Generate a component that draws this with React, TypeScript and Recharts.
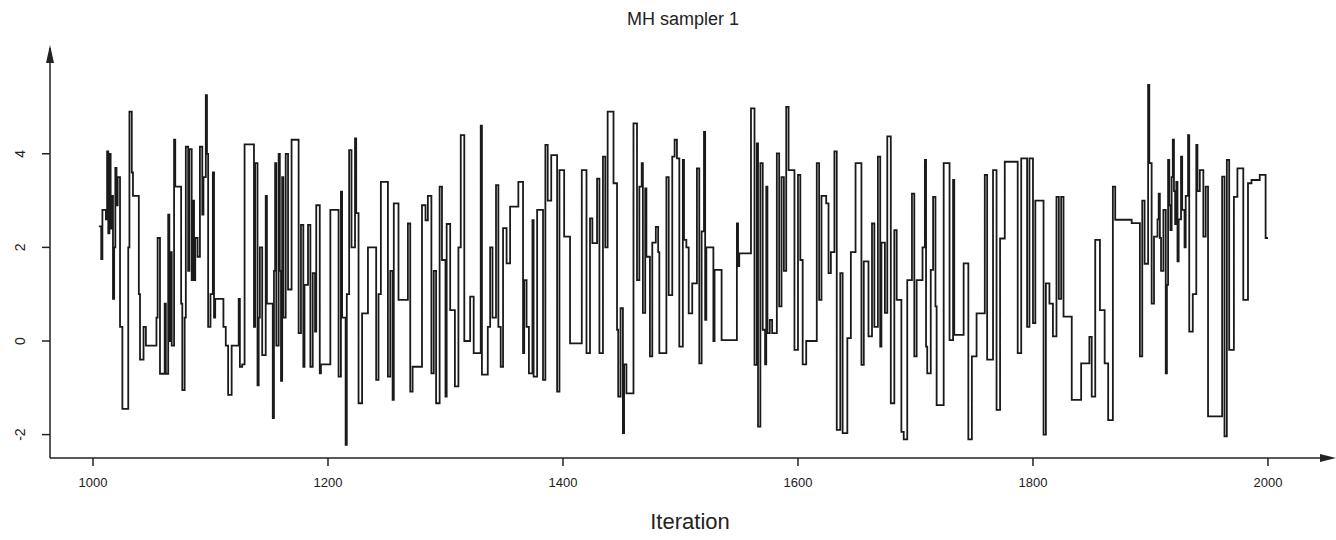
import React from "react";
import { LineChart, Line, XAxis, YAxis, Label } from "recharts";

// change points of the chain (iteration where the sampler moved, new value)
const iterations = [
  1005, 1007, 1008, 1011, 1012, 1013, 1014, 1015, 1016, 1017, 1018, 1019, 1020, 1021, 1023, 1025, 1030, 1031, 1033, 1034,
  1039, 1040, 1043, 1045, 1054, 1055, 1057, 1061, 1062, 1064, 1065, 1066, 1067, 1069, 1070, 1075, 1076, 1078, 1079, 1081,
  1082, 1084, 1085, 1086, 1087, 1089, 1091, 1093, 1094, 1096, 1097, 1098, 1100, 1102, 1103, 1104, 1111, 1113, 1115, 1118,
  1124, 1125, 1127, 1129, 1137, 1138, 1140, 1141, 1142, 1144, 1147, 1148, 1153, 1154, 1155, 1156, 1158, 1159,
  1160, 1161, 1162, 1164, 1166, 1169, 1175, 1177, 1179, 1180, 1183, 1185, 1187, 1189, 1190, 1193, 1194, 1202, 1209, 1211,
  1212, 1215, 1216, 1218, 1220, 1223, 1224, 1226, 1229, 1234, 1241, 1243, 1245, 1251, 1253, 1255, 1256, 1260, 1268, 1270,
  1272, 1280, 1283, 1285, 1288, 1290, 1292, 1295, 1297, 1300, 1301, 1304, 1308, 1311, 1313, 1316, 1321, 1324,
  1330, 1331, 1336, 1338, 1340, 1343, 1345, 1347, 1349, 1352, 1355, 1362, 1366, 1367, 1369, 1371, 1374, 1375, 1378, 1383,
  1385, 1387, 1390, 1395, 1397, 1401, 1406, 1416, 1420, 1423, 1425, 1429, 1431, 1434, 1436, 1438, 1443, 1446, 1447, 1449,
  1451, 1452, 1454, 1460, 1463, 1465, 1467, 1468, 1470, 1471, 1474, 1476, 1479, 1481, 1482, 1488, 1490,
  1493, 1495, 1497, 1499, 1502, 1503, 1505, 1507, 1510, 1514, 1516, 1518, 1520, 1521, 1522, 1528, 1529, 1535, 1548, 1549,
  1550, 1560, 1563, 1565, 1566, 1568, 1570, 1572, 1573, 1574, 1576, 1578, 1582, 1584, 1586, 1588, 1590, 1592, 1597, 1600,
  1602, 1604, 1607, 1616, 1618, 1620, 1624, 1626, 1628, 1631, 1633, 1636, 1638, 1642, 1645, 1649, 1654, 1656,
  1660, 1663, 1665, 1668, 1670, 1671, 1674, 1676, 1679, 1682, 1684, 1688, 1690, 1693, 1697, 1699, 1701, 1706, 1708, 1709,
  1710, 1713, 1715, 1717, 1718, 1724, 1729, 1732, 1733, 1741, 1745, 1748, 1752, 1759, 1761, 1766, 1769, 1772, 1776, 1787,
  1790, 1795, 1797, 1800, 1802, 1809, 1811, 1814, 1817, 1820, 1822,
  1824, 1826, 1833, 1841, 1848, 1850, 1853, 1857, 1861, 1864, 1868, 1870, 1884, 1891, 1893, 1895, 1898, 1899, 1901, 1903,
  1906, 1907, 1908, 1909, 1911, 1913, 1914, 1915, 1916, 1917, 1918, 1919, 1920, 1921, 1922, 1923, 1924, 1926, 1927, 1929,
  1930, 1932, 1933, 1936, 1939, 1940, 1942, 1945, 1947, 1949, 1961, 1963, 1965,
  1967, 1971, 1974, 1979, 1983, 1986, 1993, 1998, 2000,
];

const samples = [
  2.45, 1.75, 2.8, 2.6, 4.05, 2.3, 4.0, 2.4, 3.1, 0.9, 2.0, 3.7, 2.9, 3.5, 0.3, -1.45, 2.0, 4.9, 3.6, 3.1,
  1.0, -0.4, 0.3, -0.1, 0.5, 2.2, -0.7, 0.8, -0.7, 2.7, 0.0, 1.9, -0.1, 4.3, 3.3, 0.8, -1.05, 0.5, 4.15, 1.5,
  4.1, 1.3, 3.0, 1.3, 2.2, 1.8, 4.15, 2.7, 3.5, 5.25, 4.0, 0.3, 1.0, 3.6, 0.5, 0.9, 0.3, -0.1, -1.15, -0.1,
  0.9, -0.55, -0.5, 4.2, 0.3, 3.8, -0.95, 0.5, 2.0, -0.3, 3.1, 0.8, -1.65, 1.5, 3.8, -0.1, 4.0, 1.5,
  -0.85, 3.5, 0.5, 4.0, 1.1, 4.3, 0.17, 2.48, -0.55, 1.2, 2.48, -0.55, 1.45, 0.2, 2.9, -0.69, -0.5, 2.8, -0.76, 3.19,
  0.5, -2.22, 1.0, 4.08, 2.0, 4.33, 2.73, -1.33, 0.59, 2.0, -0.83, 1.0, 3.4, -0.76, 1.5, -1.26, 2.94, 0.88, 2.51, -1.08,
  -0.55, 2.9, 2.58, 3.1, -0.69, 1.5, -1.33, 3.3, 1.73, -1.19, 2.5, 0.66, -0.97, 2.0, 4.4, 0.0, 0.95, -0.26,
  4.6, -0.72, 0.3, 2.0, 0.5, 3.33, 0.3, -0.55, 2.41, 1.66, 2.87, 3.4, -0.26, 1.3, 0.3, -0.69, 2.58, -0.76, 2.8, -0.83,
  4.19, 3.0, 3.97, -1.08, 3.65, 2.23, -0.05, 3.65, -0.26, 2.62, 2.09, 3.47, -0.26, 3.94, 2.0, 4.9, 3.37, 0.24, -1.19, 0.7,
  -1.97, -0.5, -1.12, 4.65, 1.3, 3.3, 3.8, 0.6, 3.26, 1.8, -0.33, 2.1, 2.44, 1.9, -0.26, 3.5, 0.98,
  3.94, 4.3, 3.9, -0.12, 3.87, 2.16, 2.0, 0.59, 1.23, 3.69, -0.48, 2.34, 4.47, 0.45, 2.0, 0.0, 1.52, 0.02, 2.51, 1.6,
  1.87, 4.97, -0.51, 4.22, -1.83, 3.8, 0.24, -0.5, 3.3, 0.17, 0.45, 0.17, 4.01, 0.74, 3.5, 1.5, 5.0, 3.65, -0.19, 3.55,
  1.73, -0.5, 0.0, 3.8, 0.88, 3.1, 2.94, 1.45, 1.9, 4.05, -1.9, 1.45, -1.97, 0.06, 1.9, 3.8, -0.51, 1.7,
  0.1, 2.51, 0.3, 3.94, -0.12, 2.1, 0.6, 4.37, -1.33, 2.37, 0.88, -1.94, -2.1, 1.3, 3.15, -0.33, 1.3, 2.0, 3.87, -0.12,
  -0.69, 1.52, 3.08, 0.74, -1.37, 3.8, 0.02, 3.44, 0.13, 1.66, -2.1, -0.33, 0.59, 3.55, -0.4, 3.65, -1.47, 2.19, 3.83, -0.26,
  3.9, 0.3, 3.9, 0.38, 3.0, -2.0, 1.23, 0.8, 0.1, 3.08, 0.9,
  3.08, 0.52, -1.26, -0.48, 0.09, -1.19, 2.16, 0.66, -0.48, -1.69, 3.3, 2.59, 2.52, -0.33, 3.0, 1.65, 5.47, 3.8, 0.8, 2.23,
  2.6, 3.15, 2.2, 1.5, 2.8, -0.69, 1.2, 3.87, 2.9, 2.37, 3.5, 4.3, 3.2, 2.5, 3.4, 1.7, 2.6, 3.94, 2.8, 2.0,
  3.1, 4.4, 0.2, 1.0, 4.19, 3.2, 3.65, 2.23, 3.3, -1.61, 3.51, -2.04, 3.87,
  -0.19, 3.08, 3.69, 0.88, 3.37, 3.44, 3.55, 2.2, 2.2,
];

const xTicks = [1000, 1200, 1400, 1600, 1800, 2000];
const yTicks = [-2, 0, 2, 4];

const FONT = "'Liberation Sans', Arial, sans-serif";

const data = iterations.map((it, i) => ({ it, v: samples[i] }));

const YTick = (props: any) => {
  const { y, payload } = props;
  return (
    <text
      x={25}
      y={y}
      transform={`rotate(-90, 25, ${y})`}
      textAnchor="middle"
      fontSize={14}
      fontFamily={FONT}
      fill="#222"
    >
      {payload.value}
    </text>
  );
};

export default function App() {
  return (
    <div style={{ position: "absolute", left: 0, top: 0, width: 1336, height: 540, background: "#fff" }}>
      <div
        style={{
          position: "absolute",
          left: 683,
          top: 9,
          transform: "translateX(-50%)",
          fontFamily: FONT,
          fontSize: 18,
          color: "#222",
          whiteSpace: "nowrap",
        }}
      >
        MH sampler 1
      </div>
      <LineChart width={1336} height={540} data={data} margin={{ top: 48, right: 6, left: 8, bottom: 7 }}>
        <XAxis
          dataKey="it"
          type="number"
          domain={[963.4, 2052.8]}
          ticks={xTicks}
          allowDataOverflow
          tickSize={8}
          tickMargin={12}
          stroke="#222"
          strokeWidth={1.5}
          tick={{ fontSize: 13, fill: "#222", fontFamily: FONT }}
          height={75}
        >
          <Label
            value="Iteration"
            position="insideBottom"
            offset={4}
            style={{ fontSize: 22, fill: "#222", fontFamily: FONT }}
          />
        </XAxis>
        <YAxis
          type="number"
          domain={[-2.5, 6.26]}
          ticks={yTicks}
          allowDataOverflow
          width={42}
          tickSize={8}
          stroke="#222"
          strokeWidth={1.5}
          tick={<YTick />}
        />
        <Line
          type="stepAfter"
          dataKey="v"
          stroke="#1a1a1a"
          strokeWidth={1.8}
          dot={false}
          isAnimationActive={false}
        />
      </LineChart>
      <svg
        width={1336}
        height={540}
        style={{ position: "absolute", left: 0, top: 0, pointerEvents: "none" }}
      >
        <polygon points="50,45 46,63 54,63" fill="#222" />
        <polygon points="1336,458 1320,454 1320,462" fill="#222" />
      </svg>
    </div>
  );
}
